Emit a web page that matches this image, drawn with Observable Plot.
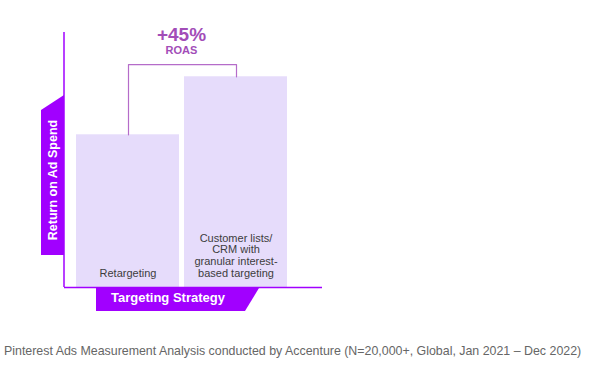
<!DOCTYPE html>
<html>
<head>
<meta charset="utf-8">
<script src="https://cdn.jsdelivr.net/npm/d3@7"></script>
<script src="https://cdn.jsdelivr.net/npm/@observablehq/plot@0.6"></script>
<style>
  body { margin: 0; background: #fff; font-family: "Liberation Sans", Arial, sans-serif; }
  #wrap { position: relative; width: 600px; height: 369px; }
  #caption { position: absolute; left: 4px; top: 344px; font-size: 12.4px; line-height: 14px; color: #666; white-space: nowrap; }
</style>
</head>
<body>
<div id="wrap">
  <div id="chart"></div>
  <div id="caption">Pinterest Ads Measurement Analysis conducted by Accenture (N=20,000+, Global, Jan 2021 – Dec 2022)</div>
</div>
<script>
const categories = ["Retargeting", "Customer lists/CRM"];
const barLabels = ["Retargeting", "Customer lists/\nCRM with\ngranular interest-\nbased targeting"];
const roasValues = [100, 138];
const upliftText = "+45%";
const upliftSub = "ROAS";
const bracketTop = 146;
const yLabel = "Return on Ad Spend";
const xLabel = "Targeting Strategy";

const bars = categories.map((c, i) => ({cat: c, value: roasValues[i], label: barLabels[i]}));
const bracket = [
  {cat: categories[0], v: roasValues[0]},
  {cat: categories[0], v: bracketTop},
  {cat: categories[1], v: bracketTop},
  {cat: categories[1], v: roasValues[1]}
];

const W = 600, H = 325, mL = 64, mR = 278, mT = 32, mB = 38;
const purple = "#a100ff";

const chart = Plot.plot({
  width: W, height: H,
  marginLeft: mL, marginRight: mR, marginTop: mT, marginBottom: mB,
  style: {fontFamily: '"Liberation Sans", Arial, sans-serif', background: "#fff"},
  x: {domain: categories, paddingInner: 0.046, paddingOuter: 0.216, align: 0.25, axis: null},
  y: {domain: [0, 167], axis: null},
  marks: [
    Plot.barY(bars, {x: "cat", y: "value", fill: "#e6dcfb"}),
    Plot.line(bracket, {x: "cat", y: "v", stroke: "#b56cc9", strokeWidth: 1.2, dx: 0.5}),
    Plot.text(bars, {x: "cat", y: 0, text: "label", lineAnchor: "bottom", dy: -11, fontSize: 11, lineHeight: 1.05, fill: "#3d3d3d"}),
    Plot.ruleY([0], {stroke: purple, strokeWidth: 1.5})
  ]
});
document.getElementById("chart").appendChild(chart);

const svg = d3.select(chart);
const x = chart.scale("x"), y = chart.scale("y");
const bottom = H - mB;
// left axis line
svg.append("line").attr("x1", mL).attr("x2", mL).attr("y1", mT).attr("y2", bottom)
  .attr("stroke", purple).attr("stroke-width", 1.5);
// y label banner
svg.append("polygon").attr("points", [[mL - 23, bottom - 32], [mL - 23, 110], [mL, 95], [mL, bottom - 32]].join(" "))
  .attr("fill", purple);
svg.append("text").text(yLabel)
  .attr("transform", `translate(${mL - 7.5},${180}) rotate(-90)`)
  .attr("text-anchor", "middle").attr("fill", "#fff").attr("font-weight", "bold").attr("font-size", 12.5);
// x label banner
svg.append("polygon").attr("points", [[96, bottom + 1], [259, bottom + 1], [245, bottom + 24], [96, bottom + 24]].join(" "))
  .attr("fill", purple);
svg.append("text").text(xLabel)
  .attr("x", 168).attr("y", bottom + 15)
  .attr("text-anchor", "middle").attr("fill", "#fff").attr("font-weight", "bold").attr("font-size", 13);
// uplift annotation centred over the bracket
const cx = (x.apply(categories[0]) + x.apply(categories[1]) + x.bandwidth) / 2;
svg.append("text").text(upliftText).attr("x", cx).attr("y", 41)
  .attr("text-anchor", "middle").attr("fill", "#a24db8").attr("font-weight", "bold").attr("font-size", 19);
svg.append("text").text(upliftSub).attr("x", cx).attr("y", 54)
  .attr("text-anchor", "middle").attr("fill", "#a24db8").attr("font-weight", "bold").attr("font-size", 11);
</script>
</body>
</html>
